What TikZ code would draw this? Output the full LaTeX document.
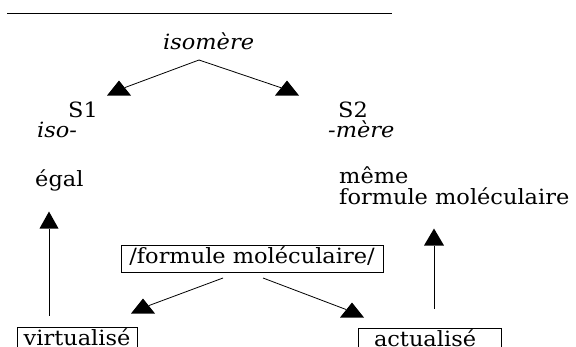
\documentclass[tikz,border=0pt]{standalone}
\usepackage{fontspec}
\setmainfont{DejaVu Serif}[FakeStretch=1.07]
\usetikzlibrary{shapes.geometric}

\tikzset{
  txt/.style={inner sep=0pt, anchor=base west},
  box/.style={draw, line width=0.8pt, inner ysep=0pt, text height=14pt,
    text depth=4pt, minimum height=27pt},
  wedge/.style={isosceles triangle, isosceles triangle stretches,
    shape border rotate=90, fill=black, inner sep=0pt,
    minimum width=24pt, minimum height=15pt, anchor=apex},
  link/.style={line width=0.8pt},
}

\begin{document}
\begin{tikzpicture}[x=1pt, y=-1pt, font=\fontsize{21}{15}\selectfont]
  \path[use as bounding box, clip] (0,0) rectangle (576,347);
  \draw[line width=0.8pt] (7,13) -- (392,13);

  \node[txt] (iso)     at (163, 50) {\itshape isomère};
  \node[txt] (S1)      at ( 68,118) {S1};
  \node[txt] (pre)     at ( 37,138) {\itshape iso-};
  \node[txt] (egal)    at ( 35,187) {égal};
  \node[txt] (S2)      at (338,118) {S2};
  \node[txt] (suf)     at (328,138) {\itshape -mère};
  \node[txt] (meme)    at (339,184) {même};
  \node[txt] (formule) at (339,205) {formule moléculaire};

  \node[box, minimum width=262pt] (fm) at (252,258.5) {/formule moléculaire/};
  \node[box, minimum width=120pt] (virt) at ( 77,340.5) {virtualisé};
  \node[box, text width=111pt, inner xsep=16pt, align=left] (act) at (429.5,341.5) {actualisé};

  \node[wedge] (t1) at (119, 80) {};
  \node[wedge] (t2) at (287, 80) {};
  \node[wedge, minimum width=19pt, minimum height=17pt] (t3) at ( 49,211) {};
  \node[wedge, minimum width=20pt, minimum height=17pt] (t4) at (434,228) {};
  \node[wedge] (t5) at (143,298) {};
  \node[wedge] (t6) at (352,302) {};

  \coordinate (top) at (199, 60);
  \coordinate (fl)  at (223,278);
  \coordinate (fr)  at (263,278);
  \coordinate (vl)  at ( 49,316);
  \coordinate (vr)  at (434,309);

  \draw[link] (top) -- (t1);
  \draw[link] (top) -- (t2);
  \draw[link] (vl)  -- (t3);
  \draw[link] (vr)  -- (t4);
  \draw[link] (fl)  -- (t5);
  \draw[link] (fr)  -- (t6);
\end{tikzpicture}
\end{document}
